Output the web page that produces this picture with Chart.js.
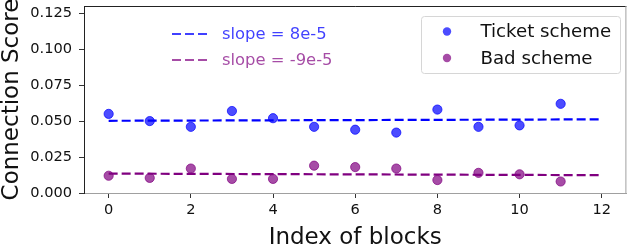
<!DOCTYPE html>
<html>
<head>
<meta charset="utf-8">
<script src="https://cdn.jsdelivr.net/npm/chart.js@4/dist/chart.umd.min.js"></script>
<style>
  html, body { margin: 0; padding: 0; background: #fff; }
  #wrap { width: 632px; height: 244px; position: relative; }
</style>
</head>
<body>
<div id="wrap"><canvas id="c"></canvas></div>
<script>
// ---- data ----
const blocks = [0, 1, 2, 3, 4, 5, 6, 7, 8, 9, 10, 11];
const ticketScores = [0.055, 0.050, 0.046, 0.057, 0.052, 0.046, 0.044, 0.042, 0.058, 0.046, 0.047, 0.062];
const badScores = [0.012, 0.0105, 0.017, 0.0098, 0.0098, 0.019, 0.018, 0.017, 0.009, 0.014, 0.013, 0.008];
const trendX = [0, 12];
const ticketTrend = [0.0502, 0.0512];
const badTrend = [0.0135, 0.0124];
const seriesLabels = ['Ticket scheme', 'Bad scheme'];
const slopeLabels = ['slope = 8e-5', 'slope = -9e-5'];
const xTicks = [0, 2, 4, 6, 8, 10, 12];
const yTicks = [0, 0.025, 0.05, 0.075, 0.1, 0.125];
const xTitle = 'Index of blocks';
const yTitle = 'Connection Score';

// ---- styles ----
const FONT = "'DejaVu Sans', Verdana, sans-serif";
const ticketPointColor = 'rgba(0,0,255,0.7)';
const badPointColor = 'rgba(128,0,128,0.7)';
const ticketLineColor = '#0000ff';
const badLineColor = '#800080';

const pts = (xs, ys) => xs.map((x, i) => ({ x: x, y: ys[i] }));

const decorPlugin = {
  id: 'decor',
  afterDraw(chart) {
    const ctx = chart.ctx;
    const a = chart.chartArea;
    ctx.save();
    // top & right spines
    ctx.lineWidth = 1;
    ctx.strokeStyle = '#222';
    ctx.beginPath(); ctx.moveTo(a.left, a.top + 0.5); ctx.lineTo(a.right, a.top + 0.5); ctx.stroke();
    ctx.strokeStyle = '#a0a0a0';
    ctx.beginPath(); ctx.moveTo(a.right - 0.5, a.top); ctx.lineTo(a.right - 0.5, a.bottom); ctx.stroke();

    // slope legend (no frame)
    const slopeColors = ['rgba(0,0,255,0.75)', 'rgba(128,0,128,0.7)'];
    ctx.font = '16.4px ' + FONT;
    ctx.textBaseline = 'middle';
    ctx.textAlign = 'left';
    for (let i = 0; i < slopeLabels.length; i++) {
      const y = a.top + 28 + i * 26;
      ctx.strokeStyle = slopeColors[i];
      ctx.lineWidth = 2.2;
      ctx.setLineDash([9, 4]);
      ctx.beginPath(); ctx.moveTo(a.left + 88, y); ctx.lineTo(a.left + 127, y); ctx.stroke();
      ctx.setLineDash([]);
      ctx.fillStyle = slopeColors[i];
      ctx.fillText(slopeLabels[i], a.left + 138, y + 1);
    }

    // main legend (framed)
    const bx = 421.5, by = 16.5, bw = 199, bh = 57;
    ctx.beginPath();
    ctx.roundRect(bx, by, bw, bh, 3);
    ctx.fillStyle = 'rgba(255,255,255,0.85)';
    ctx.fill();
    ctx.strokeStyle = '#d6d6d6';
    ctx.lineWidth = 1;
    ctx.stroke();
    const pc = [ticketPointColor, badPointColor];
    ctx.font = '18.2px ' + FONT;
    for (let i = 0; i < seriesLabels.length; i++) {
      const y = 31.5 + i * 26.5;
      ctx.fillStyle = pc[i];
      ctx.beginPath(); ctx.arc(447, y, 4.2, 0, Math.PI * 2); ctx.fill();
      ctx.fillStyle = '#111';
      ctx.fillText(seriesLabels[i], 480.5, y + 1);
    }
    ctx.restore();
  }
};

new Chart(document.getElementById('c'), {
  type: 'scatter',
  data: {
    datasets: [
      { label: 'ticketTrend', type: 'line', data: pts(trendX, ticketTrend), borderColor: ticketLineColor,
        borderWidth: 2.2, borderDash: [9, 4], pointRadius: 0, fill: false, order: 3 },
      { label: 'badTrend', type: 'line', data: pts(trendX, badTrend), borderColor: badLineColor,
        borderWidth: 2.2, borderDash: [9, 4], pointRadius: 0, fill: false, order: 3 },
      { label: seriesLabels[0], data: pts(blocks, ticketScores), backgroundColor: ticketPointColor,
        borderColor: ticketPointColor, borderWidth: 1, pointRadius: 4.6, order: 1 },
      { label: seriesLabels[1], data: pts(blocks, badScores), backgroundColor: badPointColor,
        borderColor: badPointColor, borderWidth: 1, pointRadius: 4.6, order: 1 }
    ]
  },
  options: {
    responsive: true,
    maintainAspectRatio: false,
    animation: false,
    devicePixelRatio: 1,
    layout: { padding: { top: 6, right: 2, left: 0, bottom: 0 } },
    plugins: { legend: { display: false }, tooltip: { enabled: false } },
    scales: {
      x: {
        type: 'linear', min: -0.6, max: 12.6,
        afterBuildTicks: s => { s.ticks = xTicks.map(v => ({ value: v })); },
        afterFit: s => { s.height = 51; s.paddingLeft = 0; s.paddingRight = 0; },
        grid: { display: true, drawOnChartArea: false, drawTicks: true, tickLength: 5, color: '#333', tickWidth: 1 },
        border: { display: true, color: '#a0a0a0', width: 1 },
        ticks: { font: { family: FONT, size: 14.6 }, color: '#111', padding: 3, maxRotation: 0,
                 callback: v => String(v) },
        title: { display: true, text: xTitle, font: { family: FONT, size: 23, lineHeight: 0.5 },
                 color: '#111', padding: 0 }
      },
      y: {
        type: 'linear', min: 0, max: 0.13,
        afterBuildTicks: s => { s.ticks = yTicks.map(v => ({ value: v })); },
        afterFit: s => { s.width = 84; s.paddingTop = 0; s.paddingBottom = 0; },
        grid: { display: true, drawOnChartArea: false, drawTicks: true, tickLength: 5, color: '#333', tickWidth: 1 },
        border: { display: true, color: '#222', width: 1 },
        ticks: { font: { family: FONT, size: 14.6 }, color: '#111', padding: 7,
                 callback: v => Number(v).toFixed(3) },
        title: { display: true, text: yTitle, font: { family: FONT, size: 23, lineHeight: 1 },
                 color: '#111', padding: { top: 1, bottom: 0 } }
      }
    }
  },
  plugins: [decorPlugin]
});
</script>
</body>
</html>
